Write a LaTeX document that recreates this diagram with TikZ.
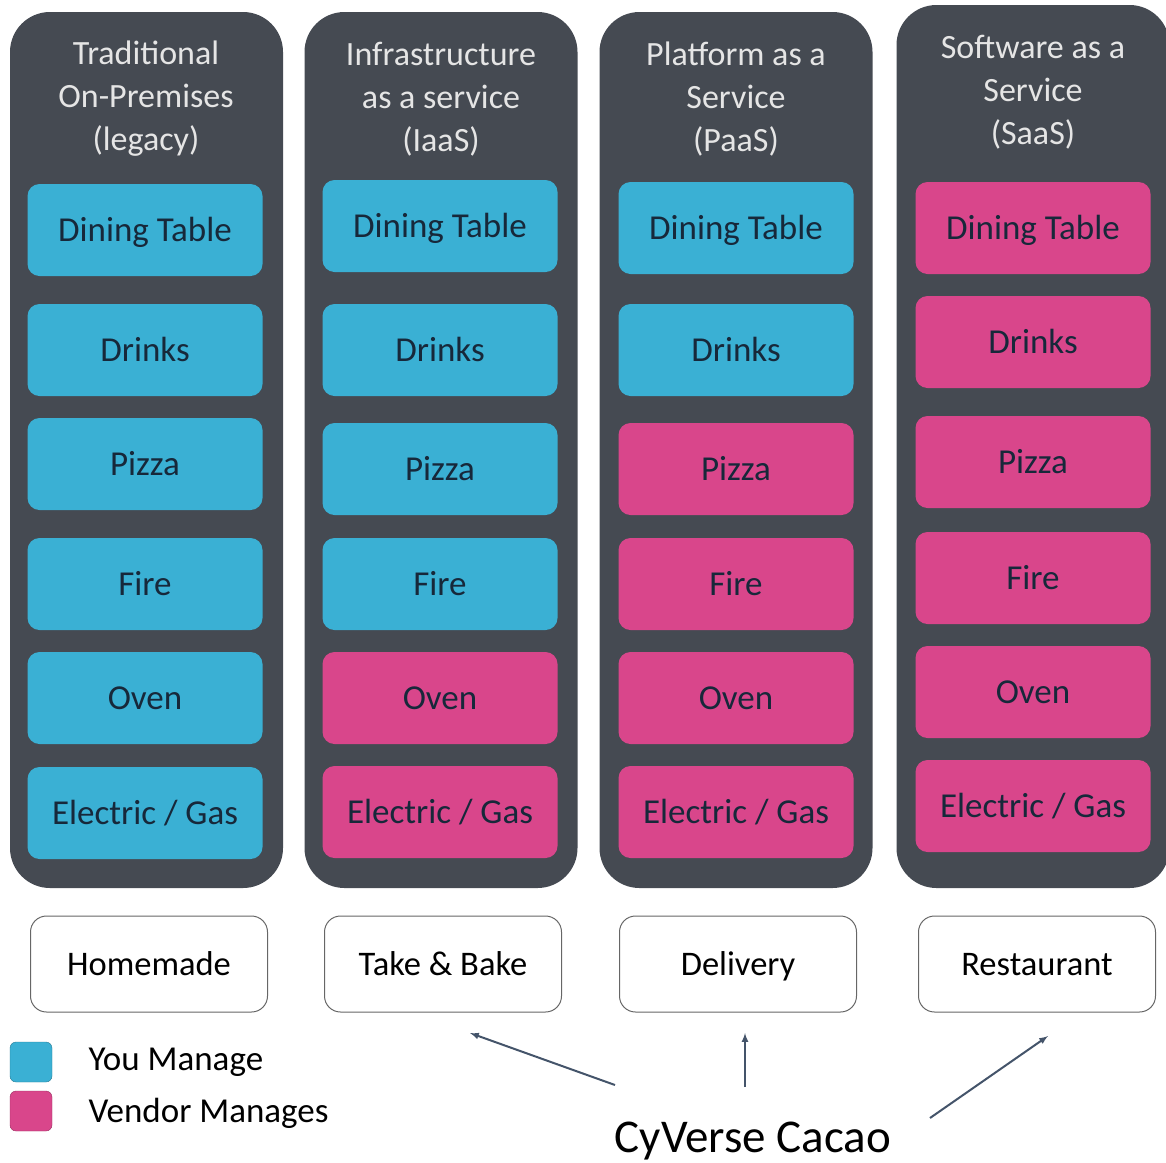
\documentclass[tikz,border=0pt]{standalone}
\usepackage{fontspec}
\setmainfont{Carlito}
\usetikzlibrary{positioning}

\definecolor{panelgray}{HTML}{454A52}
\definecolor{youblue}{HTML}{3AB0D4}
\definecolor{vendorpink}{HTML}{D9468B}
\definecolor{itemtext}{HTML}{17283A}
\definecolor{arrowgray}{HTML}{44546A}

\begin{document}
\begin{tikzpicture}[
  x=1pt,y=-1pt,
  panel/.style={fill=panelgray,rounded corners=40pt,minimum width=273pt,minimum height=876pt,inner sep=0pt},
  heading/.style={text=white!90!black,align=center,font=\fontsize{34}{43}\selectfont},
  item/.style={rounded corners=12pt,minimum width=235pt,minimum height=92pt,inner sep=0pt,text=itemtext,font=\fontsize{35}{40}\selectfont,text height=28pt,text depth=5pt},
  you/.style={item,fill=youblue},
  vendor/.style={item,fill=vendorpink},
  kind/.style={draw=black!60,line width=1pt,rounded corners=16pt,minimum width=237pt,minimum height=96pt,inner sep=0pt,font=\fontsize{34.5}{40}\selectfont,text height=28pt,text depth=5pt},
  swatch/.style={rounded corners=6pt,minimum width=42pt,minimum height=40pt,inner sep=0pt},
  arr/.style={arrowgray,line width=2pt,-latex},
]
  \useasboundingbox (0,0) rectangle (1166,1162);

  % panels
  \node[panel] (legacy) at (146.5,450) {};
  \node[panel] (iaas) at (441,450) {};
  \node[panel] (paas) at (736,450) {};
  \node[panel,minimum height=883pt] (saas) at (1033,446.5) {};

  \node[heading] (legacy-t) at (146,99) {Traditional\\On-Premises\\(legacy)};
  \node[heading] (iaas-t) at (441,99) {Infrastructure\\as a service\\(IaaS)};
  \node[heading] (paas-t) at (736,99) {Platform as a\\Service\\(PaaS)};
  \node[heading] (saas-t) at (1033,92) {Software as a\\Service\\(SaaS)};

  % traditional
  \node[you] (legacy-table) at (145,230) {Dining Table};
  \node[you] (legacy-drinks) at (145,350) {Drinks};
  \node[you] (legacy-pizza) at (145,464) {Pizza};
  \node[you] (legacy-fire) at (145,584) {Fire};
  \node[you] (legacy-oven) at (145,698) {Oven};
  \node[you] (legacy-gas) at (145,813) {Electric / Gas};

  % iaas
  \node[you] (iaas-table) at (440,226) {Dining Table};
  \node[you] (iaas-drinks) at (440,350) {Drinks};
  \node[you] (iaas-pizza) at (440,469) {Pizza};
  \node[you] (iaas-fire) at (440,584) {Fire};
  \node[vendor] (iaas-oven) at (440,698) {Oven};
  \node[vendor] (iaas-gas) at (440,812) {Electric / Gas};

  % paas
  \node[you] (paas-table) at (736,228) {Dining Table};
  \node[you] (paas-drinks) at (736,350) {Drinks};
  \node[vendor] (paas-pizza) at (736,469) {Pizza};
  \node[vendor] (paas-fire) at (736,584) {Fire};
  \node[vendor] (paas-oven) at (736,698) {Oven};
  \node[vendor] (paas-gas) at (736,812) {Electric / Gas};

  % saas
  \node[vendor] (saas-table) at (1033,228) {Dining Table};
  \node[vendor] (saas-drinks) at (1033,342) {Drinks};
  \node[vendor] (saas-pizza) at (1033,462) {Pizza};
  \node[vendor] (saas-fire) at (1033,578) {Fire};
  \node[vendor] (saas-oven) at (1033,692) {Oven};
  \node[vendor] (saas-gas) at (1033,806) {Electric / Gas};

  % pizza kinds
  \node[kind] (homemade) at (149,964) {Homemade};
  \node[kind] (takebake) at (443,964) {Take \& Bake};
  \node[kind] (delivery) at (738,964) {Delivery};
  \node[kind] (restaurant) at (1037,964) {Restaurant};

  % legend
  \node[swatch,fill=youblue,draw=youblue!70!black] (you-key) at (31,1062) {};
  \node[swatch,fill=vendorpink,draw=vendorpink!70!black] (vendor-key) at (31,1111) {};
  \node[anchor=west,font=\fontsize{35}{40}\selectfont] (you-txt) at (85,1062) {You Manage};
  \node[anchor=west,font=\fontsize{35}{40}\selectfont] (vendor-txt) at (85,1113) {Vendor Manages};

  % cacao
  \node[font=\fontsize{47}{54}\selectfont] (cacao) at (753,1141) {CyVerse Cacao};
  \coordinate (tail-l) at (615,1085);
  \coordinate (tail-m) at (745,1087);
  \coordinate (tail-r) at (930,1118);
  \coordinate (tip-l) at (470,1033);
  \coordinate (tip-m) at (745,1033);
  \coordinate (tip-r) at (1048,1036);
  \draw[arr] (tail-l) -- (tip-l);
  \draw[arr] (tail-m) -- (tip-m);
  \draw[arr] (tail-r) -- (tip-r);
\end{tikzpicture}
\end{document}
